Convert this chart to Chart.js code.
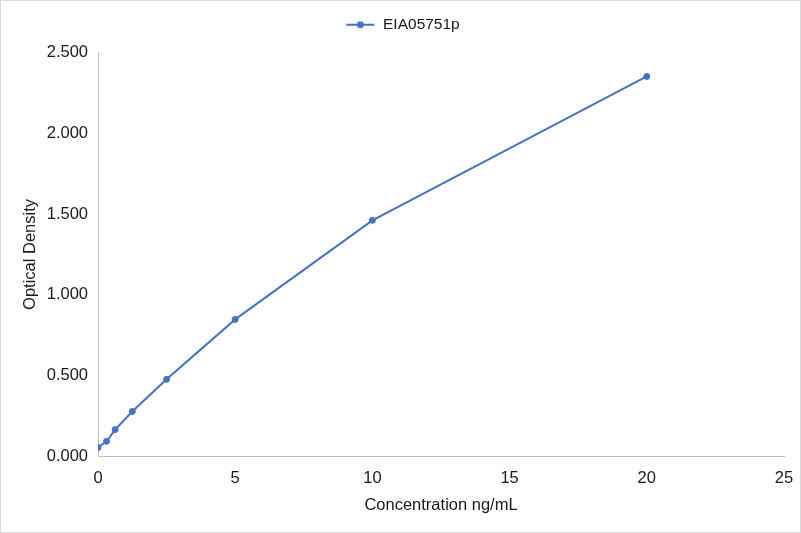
<!DOCTYPE html>
<html>
<head>
<meta charset="utf-8">
<script src="https://cdn.jsdelivr.net/npm/chart.js@4"></script>
<style>
  html, body { margin: 0; padding: 0; background: #fff; }
  #wrap { width: 801px; height: 533px; position: relative; box-sizing: border-box; border: 1px solid #d9d9d9; }
</style>
</head>
<body>
<div id="wrap"><canvas id="c"></canvas></div>
<script>
  // Standard curve readings
  const seriesName = 'EIA05751p';
  const concentrations = [0, 0.3125, 0.625, 1.25, 2.5, 5, 10, 20];
  const densities = [0.055, 0.093, 0.166, 0.278, 0.477, 0.848, 1.461, 2.352];
  const xTicks = [0, 5, 10, 15, 20, 25];
  const yTicks = [0, 0.5, 1.0, 1.5, 2.0, 2.5];

  const blue = '#4472C4';
  const axisColor = '#bfbfbf';
  const textColor = '#1a1a1a';
  const family = 'Liberation Sans, Arial, sans-serif';

  // legend marker: short line with a dot in the middle
  const marker = document.createElement('canvas');
  marker.width = 30; marker.height = 10;
  (function() {
    const m = marker.getContext('2d');
    m.strokeStyle = blue; m.lineWidth = 2;
    m.beginPath(); m.moveTo(1, 5); m.lineTo(29, 5); m.stroke();
    m.fillStyle = blue;
    m.beginPath(); m.arc(15, 5, 3.5, 0, Math.PI * 2); m.fill();
  })();

  // extra space between the legend and the plot
  const legendGap = {
    id: 'legendGap',
    beforeInit(chart) {
      const fit = chart.legend.fit;
      chart.legend.fit = function() {
        fit.call(this);
        this.height += 10;
      };
    }
  };

  const points = concentrations.map((x, i) => ({ x: x, y: densities[i] }));

  new Chart(document.getElementById('c'), {
    type: 'scatter',
    data: {
      datasets: [{
        label: seriesName,
        data: points,
        showLine: true,
        borderColor: blue,
        backgroundColor: blue,
        borderWidth: 2,
        pointRadius: 3,
        pointBorderWidth: 1,
        pointHoverRadius: 3,
        pointStyle: 'circle'
      }]
    },
    plugins: [legendGap],
    options: {
      responsive: true,
      maintainAspectRatio: false,
      animation: false,
      layout: { padding: { top: 0, right: 16, bottom: 17, left: 20 } },
      font: { family: family },
      plugins: {
        tooltip: { enabled: false },
        legend: {
          position: 'top',
          labels: {
            usePointStyle: true,
            pointStyle: marker,
            pointStyleWidth: 30,
            boxHeight: 10,
            padding: 16,
            color: textColor,
            font: { family: family, size: 15.5 }
          }
        }
      },
      scales: {
        x: {
          type: 'linear',
          min: 0,
          max: 25,
          afterBuildTicks: s => { s.ticks = xTicks.map(v => ({ value: v })); },
          afterFit: s => { s.paddingLeft = 0; s.paddingRight = 0; },
          ticks: {
            color: textColor,
            padding: 12,
            font: { family: family, size: 16.5 }
          },
          grid: { display: false, drawTicks: false },
          border: { display: true, color: axisColor, width: 1 },
          title: {
            display: true,
            text: 'Concentration ng/mL',
            color: textColor,
            padding: { top: -5, bottom: 0 },
            font: { family: family, size: 16.5 }
          }
        },
        y: {
          type: 'linear',
          min: 0,
          max: 2.5,
          afterBuildTicks: s => { s.ticks = yTicks.map(v => ({ value: v })); },
          afterFit: s => { s.width = 77; s.paddingTop = 0; s.paddingBottom = 0; },
          ticks: {
            color: textColor,
            padding: 10,
            callback: v => v.toFixed(3),
            font: { family: family, size: 16.5 }
          },
          grid: { display: false, drawTicks: false },
          border: { display: true, color: axisColor, width: 1 },
          title: {
            display: true,
            text: 'Optical Density',
            color: textColor,
            padding: { top: 0, bottom: 0 },
            font: { family: family, size: 16.5 }
          }
        }
      }
    }
  });
</script>
</body>
</html>
